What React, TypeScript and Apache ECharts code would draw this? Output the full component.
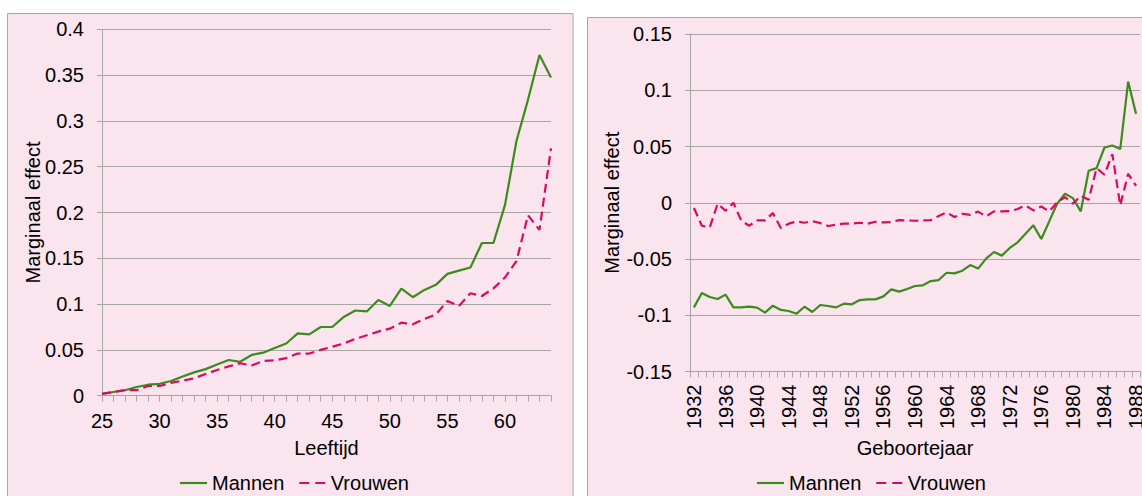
import React, { useEffect, useRef } from "react";
import * as echarts from "echarts";

const ages = ["25","26","27","28","29","30","31","32","33","34","35","36","37","38","39","40","41","42","43","44","45","46","47","48","49","50","51","52","53","54","55","56","57","58","59","60","61","62","63","64"];

const mannenAge = [0.002,0.004,0.006,0.0095,0.012,0.013,0.016,0.021,0.0255,0.029,
  0.034,0.039,0.037,0.0445,0.047,0.052,0.057,0.068,0.067,0.075,
  0.075,0.086,0.093,0.092,0.1045,0.098,0.117,0.1075,0.1155,0.121,
  0.133,0.1365,0.14,0.1667,0.1667,0.208,0.278,0.323,0.372,0.3475];

const vrouwenAge = [0.002,0.004,0.006,0.006,0.0106,0.0106,0.014,0.0164,0.019,0.0237,
  0.028,0.032,0.0354,0.033,0.0379,0.0386,0.041,0.046,0.046,0.05,
  0.0535,0.057,0.062,0.066,0.07,0.0732,0.0797,0.078,0.0837,0.0888,
  0.1034,0.098,0.1118,0.1088,0.1172,0.129,0.147,0.197,0.181,0.27];

const years = ["1932","1933","1934","1935","1936","1937","1938","1939","1940","1941",
  "1942","1943","1944","1945","1946","1947","1948","1949","1950","1951",
  "1952","1953","1954","1955","1956","1957","1958","1959","1960","1961",
  "1962","1963","1964","1965","1966","1967","1968","1969","1970","1971",
  "1972","1973","1974","1975","1976","1977","1978","1979","1980","1981",
  "1982","1983","1984","1985","1986","1987","1988"];

const mannenYear = [-0.093,-0.0802,-0.0838,-0.0856,-0.0817,-0.093,-0.093,-0.0924,-0.0932,-0.0977,
  -0.0915,-0.0953,-0.0962,-0.0986,-0.0924,-0.0971,-0.0909,-0.0918,-0.093,-0.0897,
  -0.0903,-0.0865,-0.0859,-0.0859,-0.0832,-0.077,-0.079,-0.0767,-0.074,-0.0734,
  -0.0696,-0.0687,-0.0622,-0.0628,-0.0604,-0.0554,-0.0585,-0.0497,-0.0438,-0.047,
  -0.0402,-0.0352,-0.0275,-0.0201,-0.0322,-0.0166,-0.0009,0.008,0.0041,-0.0077,
  0.0284,0.0308,0.0491,0.0509,0.0477,0.1077,0.079];

const vrouwenYear = [-0.0047,-0.0204,-0.0219,-0.0009,-0.0071,0.0,-0.016,-0.0204,-0.0157,-0.0157,
  -0.0092,-0.0225,-0.0186,-0.0166,-0.0178,-0.0163,-0.0181,-0.0207,-0.0195,-0.0186,
  -0.0186,-0.0178,-0.0186,-0.0169,-0.0175,-0.0172,-0.0154,-0.0157,-0.016,-0.0157,
  -0.0154,-0.0118,-0.0086,-0.0127,-0.0098,-0.0107,-0.0079,-0.0121,-0.0077,-0.0077,
  -0.0074,-0.0056,-0.0024,-0.0068,-0.0033,-0.0077,0.0003,0.005,-0.0009,0.0062,
  0.0027,0.0308,0.0249,0.0432,-0.0024,0.0258,0.015];

const seriesNames = ["Mannen", "Vrouwen"];

const GREEN = "#3C8C1C";
const PINK = "#DA0A64";
const GRAY = "#A6A6A6";
const BG = "#FAE4ED";
const FONT = "'Liberation Sans', Arial, sans-serif";

const SOLID_ICON = "path://M0,0H27V2.2H0Z";
const DASH_ICON = "path://M0,0H10V2.2H0Z M16,0H26V2.2H16Z";

function xAxisBase() {
  return {
    type: "category" as const,
    axisLine: { show: true, onZero: false, lineStyle: { color: GRAY, width: 1 } },
    axisTick: { show: true, interval: 0, length: 6, lineStyle: { color: GRAY } },
    splitLine: { show: false },
    nameLocation: "middle" as const,
    nameMoveOverlap: false,
    nameTextStyle: { fontSize: 20, color: "#000", fontFamily: FONT },
  };
}

function yAxisBase() {
  return {
    type: "value" as const,
    interval: 0.05,
    axisLine: { show: true, lineStyle: { color: GRAY, width: 1 } },
    axisTick: { show: true, length: 5, lineStyle: { color: GRAY } },
    splitLine: { show: true, lineStyle: { color: GRAY, width: 1 } },
    axisLabel: { fontSize: 20, color: "#000", margin: 18, fontFamily: FONT },
    nameLocation: "middle" as const,
    nameMoveOverlap: false,
    nameTextStyle: { fontSize: 20, color: "#000", fontFamily: FONT },
  };
}

function legendBase(left: number) {
  return {
    left,
    top: 473,
    padding: 0,
    orient: "horizontal" as const,
    data: [
      { name: seriesNames[0], icon: SOLID_ICON },
      { name: seriesNames[1], icon: DASH_ICON },
    ],
    itemWidth: 27,
    itemHeight: 2.2,
    itemGap: 15,
    textStyle: { fontSize: 20, color: "#000", fontFamily: FONT },
  };
}

export default function App() {
  const ref = useRef<HTMLDivElement>(null);
  useEffect(() => {
    if (!ref.current) return;
    const chart = echarts.init(ref.current, null, { renderer: "svg" });
    const option = {
      animation: false,
      backgroundColor: "#FFFFFF",
      textStyle: { fontFamily: FONT },
      graphic: [
        {
          type: "rect",
          z: -10,
          silent: true,
          shape: { x: 7.5, y: 13.5, width: 565.5, height: 520 },
          style: { fill: BG, stroke: GRAY, lineWidth: 1 },
        },
        {
          type: "rect",
          z: -10,
          silent: true,
          shape: { x: 587.5, y: 17.5, width: 620, height: 520 },
          style: { fill: BG, stroke: GRAY, lineWidth: 1 },
        },
      ],
      legend: [legendBase(180), legendBase(757)],
      grid: [
        { left: 102, right: 591, top: 29.3, bottom: 100.3, containLabel: false, outerBoundsMode: "none" },
        { left: 690, right: 2, top: 34, bottom: 124.5, containLabel: false, outerBoundsMode: "none" },
      ],
      xAxis: [
        {
          ...xAxisBase(),
          gridIndex: 0,
          data: ages,
          boundaryGap: false,
          name: "Leeftijd",
          nameGap: 42,
          axisLabel: { interval: 4, fontSize: 20, color: "#000", margin: 15, fontFamily: FONT },
        },
        {
          ...xAxisBase(),
          gridIndex: 1,
          data: years,
          boundaryGap: true,
          name: "Geboortejaar",
          nameGap: 66,
          axisLabel: { interval: 3, rotate: 90, fontSize: 20, color: "#000", margin: 13, fontFamily: FONT },
        },
      ],
      yAxis: [
        { ...yAxisBase(), gridIndex: 0, min: 0, max: 0.4, name: "Marginaal effect", nameGap: 59 },
        { ...yAxisBase(), gridIndex: 1, min: -0.15, max: 0.15, name: "Marginaal effect", nameGap: 68 },
      ],
      series: [
        {
          name: seriesNames[0], type: "line", xAxisIndex: 0, yAxisIndex: 0, data: mannenAge,
          symbol: "none", lineStyle: { color: GREEN, width: 2.2 }, itemStyle: { color: GREEN },
        },
        {
          name: seriesNames[1], type: "line", xAxisIndex: 0, yAxisIndex: 0, data: vrouwenAge,
          symbol: "none", lineStyle: { color: PINK, width: 2.2, type: [9, 5] }, itemStyle: { color: PINK },
        },
        {
          name: seriesNames[0], type: "line", xAxisIndex: 1, yAxisIndex: 1, data: mannenYear,
          symbol: "none", lineStyle: { color: GREEN, width: 2.2 }, itemStyle: { color: GREEN },
        },
        {
          name: seriesNames[1], type: "line", xAxisIndex: 1, yAxisIndex: 1, data: vrouwenYear,
          symbol: "none", lineStyle: { color: PINK, width: 2.2, type: [9, 5] }, itemStyle: { color: PINK },
        },
      ],
    };
    chart.setOption(option as any);
    return () => chart.dispose();
  }, []);
  return (
    <div
      ref={ref}
      style={{ position: "fixed", left: 0, top: 0, width: 1142, height: 496 }}
    />
  );
}
